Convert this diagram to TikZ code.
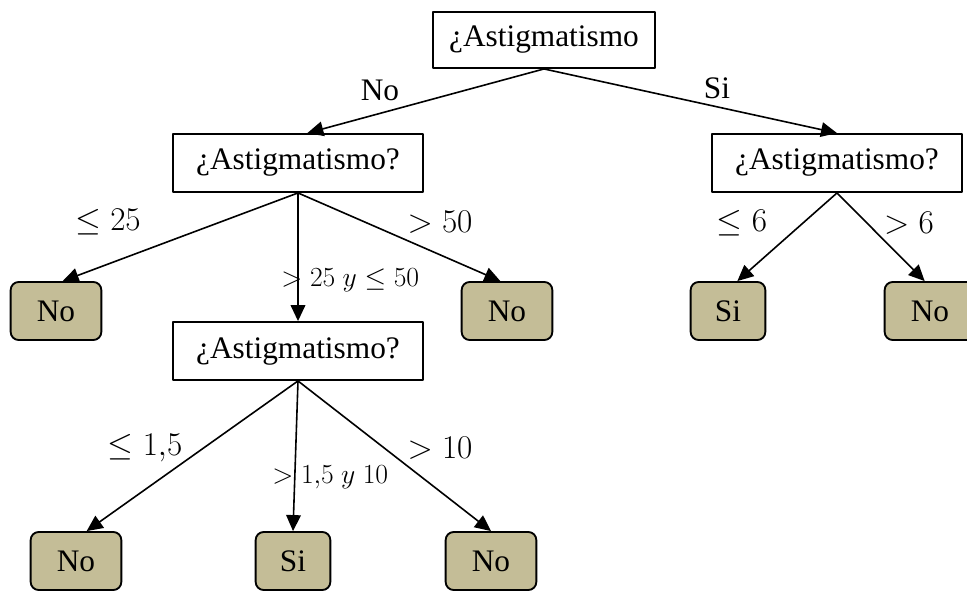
\documentclass[tikz,border=0pt]{standalone}
\usepackage{fontspec}
\setmainfont{Liberation Serif}
\usetikzlibrary{arrows.meta}
\definecolor{leafbg}{HTML}{C4BD97}

\begin{document}
\begin{tikzpicture}[
  x=0.75pt, y=-0.75pt,
  line join=round,
  font=\fontsize{23.5}{27}\selectfont,
  qbox/.style={draw, line width=1.4pt, inner sep=0pt,
    minimum width=188pt, minimum height=43.5pt},
  leaf/.style={draw, line width=1.4pt, fill=leafbg, rounded corners=6pt,
    inner sep=0pt, minimum width=68pt, minimum height=43.5pt},
  sileaf/.style={leaf, minimum width=56pt},
  branch/.style={line width=1.2pt, -{Triangle[length=12pt,width=11pt]}},
  lbl/.style={inner sep=0pt},
  smalllbl/.style={inner sep=0pt, font=\fontsize{22}{26}\selectfont},
]
\useasboundingbox (0,0) rectangle (967,590);

% ── the questions ─────────────────────────────────────────────────────────
\node[qbox, minimum width=166.5pt, minimum height=42pt] (root) at (544,40) {¿Astigmatismo};
\node[qbox] (qleft)  at (298,163) {¿Astigmatismo?};
\node[qbox] (qright) at (837,163) {¿Astigmatismo?};
\node[qbox] (qmid)   at (298,351) {¿Astigmatismo?};

% ── the answers ───────────────────────────────────────────────────────────
\node[leaf]   (noA) at (56,311)  {No};
\node[leaf]   (noB) at (507,311) {No};
\node[sileaf] (siA) at (728,311) {Si};
\node[leaf]   (noC) at (930,311) {No};
\node[leaf]   (noD) at (76,561)  {No};
\node[sileaf] (siB) at (293,561) {Si};
\node[leaf]   (noE) at (491,561) {No};

% ── branches ──────────────────────────────────────────────────────────────
\draw[branch] (root.south) -- ([xshift=7pt]qleft.north);
\draw[branch] (root.south) -- (qright.north);

\draw[branch] (qleft.south) -- ([xshift=5pt]noA.north);
\draw[branch] (qleft.south) -- (qmid.north);
\draw[branch] (qleft.south) -- ([xshift=-5pt]noB.north);

\draw[branch] (qright.south) -- ([xshift=7pt]siA.north);
\draw[branch] (qright.south) -- ([xshift=-4pt]noC.north);

\draw[branch] (qmid.south) -- ([xshift=8pt]noD.north);
\draw[branch] (qmid.south) -- (siB.north);
\draw[branch] (qmid.south) -- (noE.north);

% ── labels on the branches ────────────────────────────────────────────────
\node[lbl] (lNo) at (380,90) {No};
\node[lbl] (lSi) at (717,88) {Si};
\node[lbl] (lA) at (108,222) {$\leq 25$};
\node[lbl] (lB) at (440,222) {$> 50$};
\node[smalllbl, anchor=west] (lC) at (281,280) {$> 25\ y \leq 50$};
\node[lbl] (lD) at (742,223) {$\leq 6$};
\node[lbl] (lE) at (909,223) {$> 6$};
\node[lbl] (lF) at (145,448) {$\leq 1{,}5$};
\node[smalllbl, anchor=west] (lG) at (272,477) {$> 1{,}5\ y\ 10$};
\node[lbl] (lH) at (440,448) {$> 10$};

\end{tikzpicture}
\end{document}
